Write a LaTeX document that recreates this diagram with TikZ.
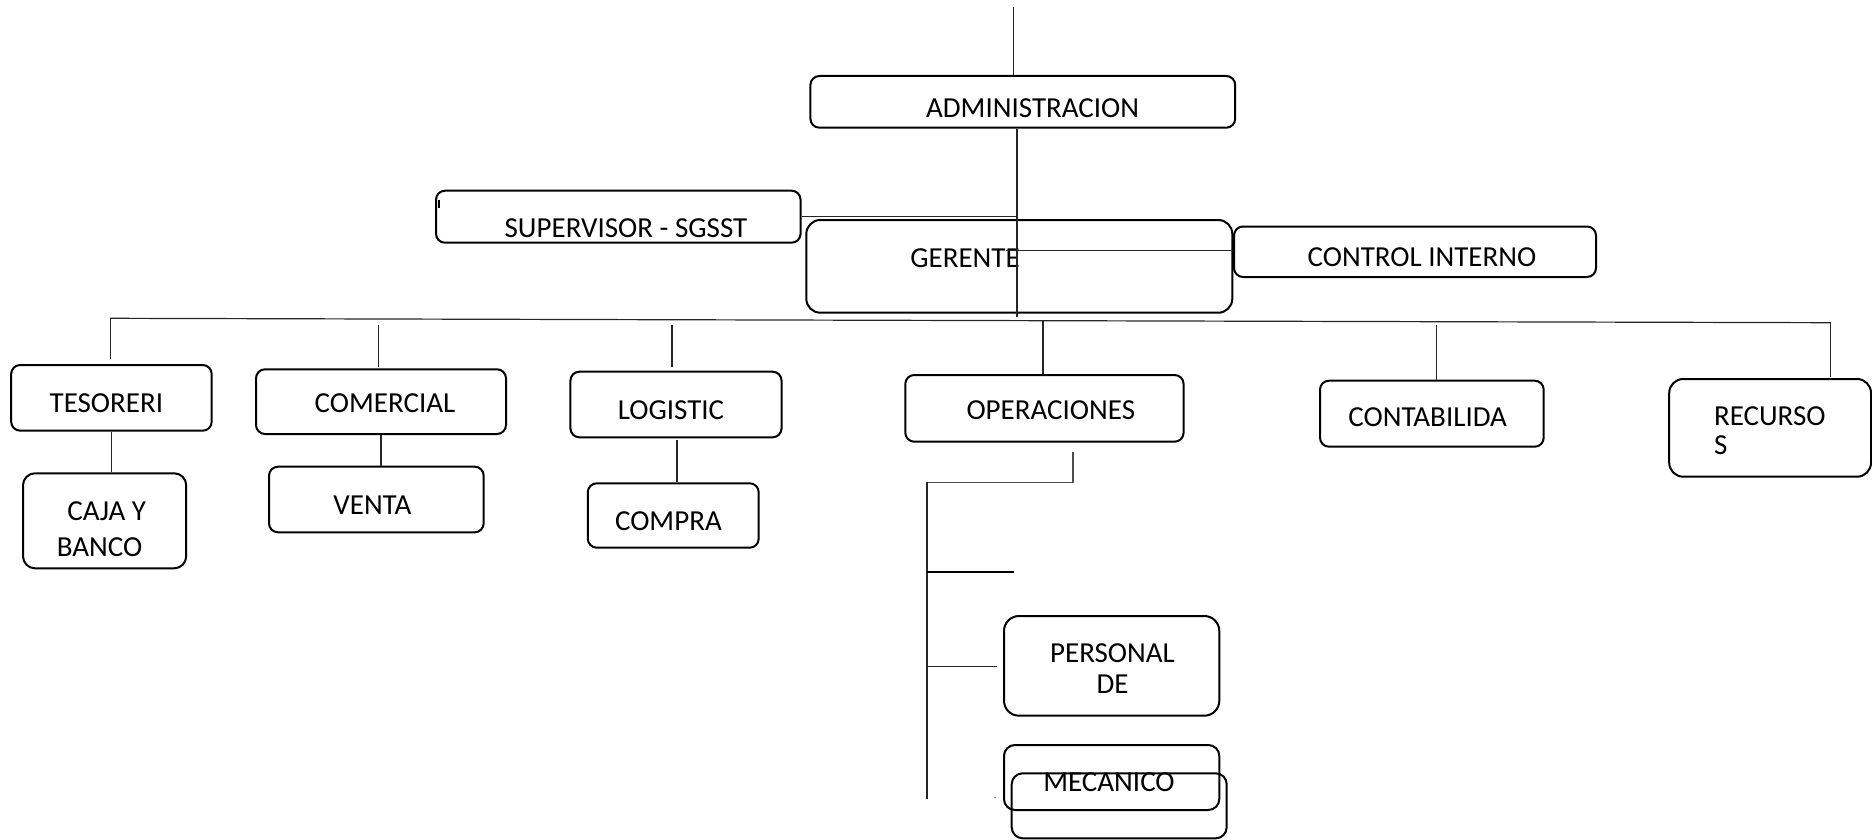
\documentclass[tikz,border=0pt]{standalone}
\usepackage{fontspec}
\setmainfont{Carlito}
\usetikzlibrary{fit}
\begin{document}
\begin{tikzpicture}[x=1pt,y=-1pt,
  orgbox/.style={draw=black, line width=2pt, rounded corners=9pt, inner sep=0pt},
  lbl/.style={inner sep=0pt, anchor=base, font=\fontsize{29}{30}\selectfont},
  link/.style={draw=black!85, line width=1.2pt}]
\useasboundingbox (0,0) rectangle (1872,840);

% ---- top level boxes
\node[orgbox, fit={(810.4,76) (1235.2,127.7)}] (admin) {};
\node[orgbox, fit={(436,190.7) (800.6,242.7)}] (sup) {};
\node[orgbox, rounded corners=14pt, fit={(806.3,220) (1232.3,312.7)}] (ger) {};
\node[orgbox, fit={(1234,226.5) (1596,277)}] (ctrl) {};

% ---- departments
\node[orgbox, fit={(11.2,365) (211.7,430.7)}] (tes) {};
\node[orgbox, rounded corners=12pt, fit={(23,473.3) (186.2,568.3)}] (caja) {};
\node[orgbox, fit={(256,369.3) (506,434)}] (com) {};
\node[orgbox, fit={(269,466.7) (483.7,532.3)}] (venta) {};
\node[orgbox, fit={(570.4,371.7) (781.6,437.3)}] (log) {};
\node[orgbox, fit={(587.8,483.3) (758.7,547.7)}] (compra) {};
\node[orgbox, fit={(905.3,375) (1183.6,441.7)}] (oper) {};
\node[orgbox, fit={(1320,380.7) (1543.7,446.7)}] (cont) {};
\node[orgbox, rounded corners=14pt, fit={(1669.2,379) (1871,476.7)}] (rec) {};
\node[orgbox, rounded corners=15pt, fit={(1004,616) (1219.3,715.7)}] (pers) {};
\node[orgbox, rounded corners=11pt, fit={(1004,745) (1219.3,810)}] (meca) {};
\node[orgbox, rounded corners=11pt, fit={(1011.7,773.3) (1226.7,838.3)}] (mecb) {};

% ---- labels
\node[lbl] (admin-t) at (1032.6,117.5) {ADMINISTRACION};
\node[lbl] (sup-t) at (626,237.5) {SUPERVISOR - SGSST};
\node[lbl] (ger-t) at (965,267.5) {GERENTE};
\node[lbl] (ctrl-t) at (1422,266.5) {CONTROL INTERNO};
\node[lbl] (tes-t) at (106.4,412.2) {TESORERI};
\node[lbl] (com-t) at (385,412.2) {COMERCIAL};
\node[lbl] (log-t) at (671,419.2) {LOGISTIC};
\node[lbl] (caja-t1) at (106.7,520.9) {CAJA Y};
\node[lbl] (caja-t2) at (99.6,556.4) {BANCO};
\node[lbl] (venta-t) at (372.4,514.2) {VENTA};
\node[lbl] (compra-t) at (668.4,530.9) {COMPRA};
\node[lbl] (oper-t) at (1050.8,419.2) {OPERACIONES};
\node[lbl] (cont-t) at (1427.7,426.5) {CONTABILIDA};
\node[lbl, anchor=base west] (rec-t1) at (1713.8,425.9) {RECURSO};
\node[lbl, anchor=base west] (rec-t2) at (1713.8,454.7) {S};
\node[lbl] (pers-t1) at (1112.5,662.5) {PERSONAL};
\node[lbl] (pers-t2) at (1112.5,693.4) {DE};
\node[lbl] (mec-t) at (1109,791.7) {MECANICO};

% small stray mark inside the supervisor box
\draw[line width=1.5pt] (439,200) -- (439,208);

% ---- trunk and side links
\coordinate (topend) at (1013.6,7);
\draw[link] (topend) -- (topend |- admin.north);
\coordinate (trunkbot) at (1017,317);
\draw[link] (trunkbot |- admin.south) -- (trunkbot);
\draw[link] (sup.east) -- (sup.east -| trunkbot);
\coordinate (ctrlstart) at (1006,250.7);
\draw[link] (ctrlstart) -- (ctrlstart -| ctrl.west);

% ---- horizontal bus and drops
\coordinate (busL) at (110.2,318.3);
\coordinate (busR) at (1830.8,322.7);
\draw[link] (busL) -- (busR);
\coordinate (d1) at (110.2,359.3);
\draw[link] (busL) -- (d1);
\coordinate (d2a) at (378.6,325);
\coordinate (d2b) at (378.6,366.7);
\draw[link] (d2a) -- (d2b);
\coordinate (d3a) at (672,325);
\coordinate (d3b) at (672,366.7);
\draw[link] (d3a) -- (d3b);
\coordinate (d4a) at (1043,321);
\draw[link] (d4a) -- (d4a |- oper.north);
\coordinate (d5a) at (1436.8,325);
\draw[link] (d5a) -- (d5a |- cont.north);
\coordinate (d6) at (1830.8,377.3);
\draw[link] (busR) -- (d6);

% ---- sub-units
\draw[link] (tes.south) -- (tes.south |- caja.north);
\draw[link] (com.south) -- (com.south |- venta.north);
\coordinate (l1) at (677,440);
\draw[link] (l1) -- (l1 |- compra.north);

% ---- operations branch
\coordinate (o1) at (1072.9,451.7);
\coordinate (o2) at (1072.9,482.3);
\coordinate (o3) at (925.5,482.3);
\draw[black!70, line width=1.6pt] (o1) -- (o2) -- (o3);
\coordinate (v1) at (927,482.3);
\coordinate (v2) at (927,799.3);
\draw[link] (v1) -- (v2);
\coordinate (b1) at (1014,571.7);
\draw[black, line width=1.8pt] (b1 -| v1) -- (b1);
\coordinate (b2) at (996.7,666.7);
\draw[link] (b2 -| v1) -- (b2);
\fill[black!60] (995,797.7) circle (0.8);
\end{tikzpicture}
\end{document}
